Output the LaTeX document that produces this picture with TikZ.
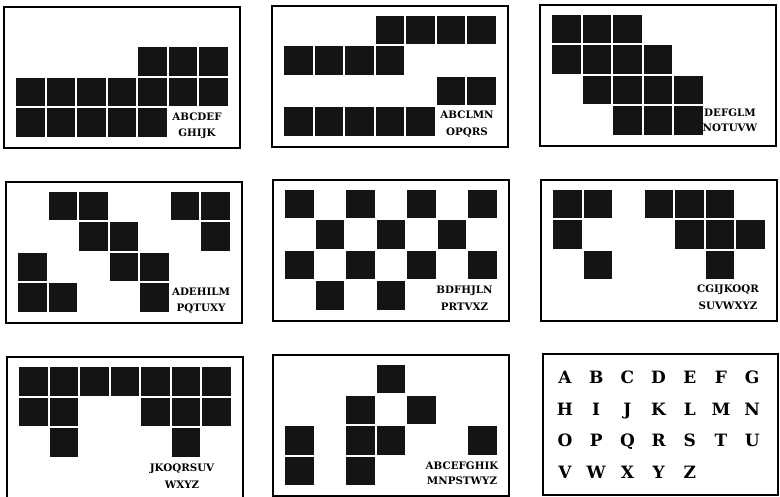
\documentclass[tikz,border=0pt]{standalone}
\usepackage{fontspec}
\newfontfamily\slabfont{DejaVu Serif}
\tikzset{
  frame/.style={draw=black, line width=2pt},
  sq/.style={fill=black!92},
  lab/.style={font=\slabfont\bfseries\fontsize{10.3}{12}\selectfont, inner sep=0pt, anchor=base},
  big/.style={font=\slabfont\bfseries\fontsize{17}{18}\selectfont, inner sep=0pt, anchor=base},
}
\newcommand\mypanel[3]{%
  \draw[frame] (#1,#2) rectangle ++(236,141);
  \foreach \c/\r in {#3} {\fill[sq] ({#1+12+\c*30.5},{#2+10+\r*30.5}) rectangle ++(28.5,28.5);}
}
\begin{document}
\begin{tikzpicture}[x=1pt,y=-1pt]
\useasboundingbox (0,0) rectangle (780,497);
% panel 1
\mypanel{4}{7}{4/1,5/1,6/1,0/2,1/2,2/2,3/2,4/2,5/2,6/2,0/3,1/3,2/3,3/3,4/3}
\node[lab] (p1a) at (197,120.8) {ABCDEF};
\node[lab] (p1b) at (197,136.8) {GHIJK};
% panel 2
\mypanel{272}{6}{3/0,4/0,5/0,6/0,0/1,1/1,2/1,3/1,5/2,6/2,0/3,1/3,2/3,3/3,4/3}
\node[lab] (p2a) at (467,118.8) {ABCLMN};
\node[lab] (p2b) at (467,135.8) {OPQRS};
% panel 3
\mypanel{540}{5}{0/0,1/0,2/0,0/1,1/1,2/1,3/1,1/2,2/2,3/2,4/2,2/3,3/3,4/3}
\node[lab] (p3a) at (730,116.8) {DEFGLM};
\node[lab] (p3b) at (730,131.8) {NOTUVW};
% panel 4
\mypanel{6}{182}{1/0,2/0,5/0,6/0,2/1,3/1,6/1,0/2,3/2,4/2,0/3,1/3,4/3}
\node[lab] (p4a) at (201,295.8) {ADEHILM};
\node[lab] (p4b) at (201,311.8) {PQTUXY};
% panel 5
\mypanel{273}{180}{0/0,2/0,4/0,6/0,1/1,3/1,5/1,0/2,2/2,4/2,6/2,1/3,3/3}
\node[lab] (p5a) at (464.5,293.8) {BDFHJLN};
\node[lab] (p5b) at (464.5,310.8) {PRTVXZ};
% panel 6
\mypanel{541}{180}{0/0,1/0,3/0,4/0,5/0,0/1,4/1,5/1,6/1,1/2,5/2}
\node[lab] (p6a) at (728,292.8) {CGIJKOQR};
\node[lab] (p6b) at (728,309.8) {SUVWXYZ};
% panel 7
\mypanel{7}{357}{0/0,1/0,2/0,3/0,4/0,5/0,6/0,0/1,1/1,4/1,5/1,6/1,1/2,5/2}
\node[lab] (p7a) at (182,471.8) {JKOQRSUV};
\node[lab] (p7b) at (182,488.8) {WXYZ};
% panel 8
\mypanel{273}{355}{3/0,2/1,4/1,0/2,2/2,3/2,6/2,0/3,2/3}
\node[lab] (p8a) at (462,469.8) {ABCEFGHIK};
\node[lab] (p8b) at (462,484.8) {MNPSTWYZ};
% panel 9
\draw[frame] (543,354) rectangle ++(235,141);
\foreach \t [count=\i from 0] in {A,B,C,D,E,F,G} {\node[big] (r1\t) at ({565+\i*31.2},384) {\t};}
\foreach \t [count=\i from 0] in {H,I,J,K,L,M,N} {\node[big] (r2\t) at ({565+\i*31.2},415.5) {\t};}
\foreach \t [count=\i from 0] in {O,P,Q,R,S,T,U} {\node[big] (r3\t) at ({565+\i*31.2},446.5) {\t};}
\foreach \t [count=\i from 0] in {V,W,X,Y,Z} {\node[big] (r4\t) at ({565+\i*31.2},478) {\t};}
\end{tikzpicture}
\end{document}
